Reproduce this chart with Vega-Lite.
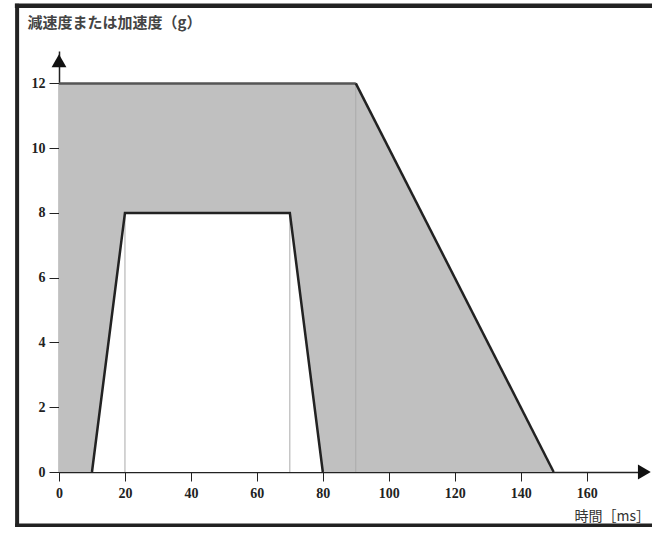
{
  "$schema": "https://vega.github.io/schema/vega-lite/v6.json",
  "width": 587,
  "height": 421,
  "autosize": {"type": "none"},
  "padding": {"left": 59, "top": 51, "right": 6, "bottom": 55},
  "background": "white",
  "config": {"view": {"stroke": null}},
  "data": {"values": [{"k": 1}]},
  "datasets": {
    "outer": [{"t": 0, "g": 12}, {"t": 90, "g": 12}, {"t": 150, "g": 0}],
    "inner": [{"t": 10, "g": 0}, {"t": 20, "g": 8}, {"t": 70, "g": 8}, {"t": 80, "g": 0}],
    "topedge": [{"t": 0, "g": 12}, {"t": 90, "g": 12}],
    "slope": [{"t": 90, "g": 12}, {"t": 150, "g": 0}],
    "vlines": [{"t": 20, "g": 8}, {"t": 70, "g": 8}, {"t": 90, "g": 12}]
  },
  "layer": [
    {
      "data": {"name": "outer"},
      "mark": {"type": "area", "fill": "#c0c0c0", "interpolate": "linear"},
      "encoding": {
        "x": {
          "field": "t", "type": "quantitative",
          "scale": {"domain": [0, 178], "nice": false},
          "axis": {
            "values": [0, 10, 20, 30, 40, 50, 60, 70, 80, 90, 100, 110, 120, 130, 140, 150, 160, 170],
            "labelExpr": "datum.value % 20 == 0 ? datum.label : ''",
            "grid": false,
            "domainColor": "#222", "domainWidth": 1.5,
            "tickColor": "#222", "tickSize": 9, "tickWidth": 1,
            "labelFont": "Liberation Serif", "labelFontWeight": "bold", "labelFontSize": 14, "labelColor": "#222",
            "labelPadding": 5, "labelFlush": false,
            "title": "時間［ms］",
            "titleFont": "Noto Sans CJK JP", "titleFontSize": 14, "titleFontWeight": "normal", "titleColor": "#333",
            "titleAlign": "left", "titleBaseline": "middle",
            "titleX": 515, "titleY": 44
          }
        },
        "y": {
          "field": "g", "type": "quantitative",
          "scale": {"domain": [0, 13], "nice": false},
          "axis": {
            "values": [0, 1, 2, 3, 4, 5, 6, 7, 8, 9, 10, 11, 12],
            "labelExpr": "datum.value % 2 == 0 ? datum.label : ''",
            "grid": false,
            "domainColor": "#222", "domainWidth": 1.5,
            "tickColor": "#222", "tickSize": 10, "tickWidth": 1,
            "labelFont": "Liberation Serif", "labelFontWeight": "bold", "labelFontSize": 14, "labelColor": "#222",
            "labelPadding": 4, "labelFlush": false,
            "title": "減速度または加速度（g）",
            "titleFont": "Noto Sans CJK JP", "titleFontSize": 15, "titleFontWeight": "bold", "titleColor": "#444",
            "titleAngle": 0, "titleAlign": "left", "titleBaseline": "middle",
            "titleX": -32, "titleY": -29
          }
        },
        "y2": {"datum": 0}
      }
    },
    {
      "data": {"name": "inner"},
      "mark": {"type": "area", "fill": "white", "interpolate": "linear"},
      "encoding": {
        "x": {"field": "t", "type": "quantitative"},
        "y": {"field": "g", "type": "quantitative"},
        "y2": {"datum": 0}
      }
    },
    {
      "data": {"name": "vlines"},
      "mark": {"type": "rule", "stroke": "#aaaaaa", "strokeWidth": 1},
      "encoding": {
        "x": {"field": "t", "type": "quantitative"},
        "y": {"field": "g", "type": "quantitative"},
        "y2": {"datum": 0}
      }
    },
    {
      "data": {"name": "topedge"},
      "mark": {"type": "line", "stroke": "#555", "strokeWidth": 2.5},
      "encoding": {
        "x": {"field": "t", "type": "quantitative"},
        "y": {"field": "g", "type": "quantitative"}
      }
    },
    {
      "data": {"name": "slope"},
      "mark": {"type": "line", "stroke": "#222", "strokeWidth": 2.5},
      "encoding": {
        "x": {"field": "t", "type": "quantitative"},
        "y": {"field": "g", "type": "quantitative"}
      }
    },
    {
      "data": {"name": "inner"},
      "mark": {"type": "line", "stroke": "#222", "strokeWidth": 2.5},
      "encoding": {
        "x": {"field": "t", "type": "quantitative"},
        "y": {"field": "g", "type": "quantitative"}
      }
    },
    {
      "mark": {"type": "rule", "stroke": "#222", "strokeWidth": 4, "strokeCap": "square", "clip": false},
      "encoding": {
        "x": {"datum": -12.7, "type": "quantitative"},
        "y": {"datum": 14.4, "type": "quantitative"},
        "y2": {"datum": -1.65}
      }
    },
    {
      "mark": {"type": "rule", "stroke": "#222", "strokeWidth": 4.5, "strokeCap": "square", "clip": false},
      "encoding": {
        "x": {"datum": -12.7, "type": "quantitative"},
        "x2": {"datum": 300},
        "y": {"datum": 14.4, "type": "quantitative"}
      }
    },
    {
      "mark": {"type": "rule", "stroke": "#222", "strokeWidth": 4, "strokeCap": "square", "clip": false},
      "encoding": {
        "x": {"datum": -12.7, "type": "quantitative"},
        "x2": {"datum": 300},
        "y": {"datum": -1.65, "type": "quantitative"}
      }
    },
    {
      "mark": {"type": "point", "shape": "triangle-up", "filled": true, "fill": "#111", "size": 220, "opacity": 1, "clip": false},
      "encoding": {
        "x": {"datum": 0, "type": "quantitative"},
        "y": {"datum": 12.7, "type": "quantitative"}
      }
    },
    {
      "mark": {"type": "point", "shape": "triangle-right", "filled": true, "fill": "#111", "size": 220, "opacity": 1, "clip": false},
      "encoding": {
        "x": {"datum": 177.5, "type": "quantitative"},
        "y": {"datum": 0, "type": "quantitative"}
      }
    }
  ]
}
